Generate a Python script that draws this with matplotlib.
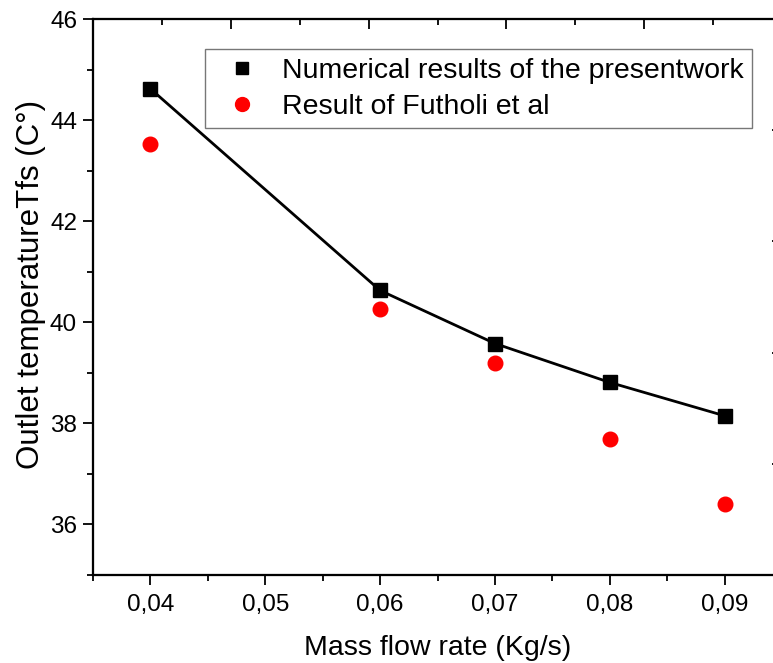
import numpy as np
import matplotlib
matplotlib.use('Agg')
import matplotlib.pyplot as plt
from matplotlib.ticker import MultipleLocator, FixedLocator, FixedFormatter
from matplotlib.lines import Line2D

plt.rcParams['font.family'] = ['Liberation Sans', 'DejaVu Sans']

# data
flow = [0.04, 0.06, 0.07, 0.08, 0.09]
present = [44.62, 40.63, 39.58, 38.81, 38.15]
futholi = [43.52, 40.27, 39.20, 37.70, 36.41]

xticks = [0.04, 0.05, 0.06, 0.07, 0.08, 0.09]
xlabels = ['0,04', '0,05', '0,06', '0,07', '0,08', '0,09']
yticks = [36, 38, 40, 42, 44, 46]

fig = plt.figure(figsize=(7.73, 6.63), dpi=100)
ax = fig.add_axes([93 / 773, 88 / 663, 689 / 773, 556 / 663])

ax.plot(flow, present, color='black', lw=2.0, marker='s', ms=9.5, zorder=3)
ax.plot(flow, futholi, color='red', lw=0, marker='o', ms=10.5, zorder=3)

ax.set_xlim(0.035, 0.095)
ax.set_ylim(35, 46)

ax.xaxis.set_major_locator(FixedLocator(xticks))
ax.xaxis.set_major_formatter(FixedFormatter(xlabels))
ax.xaxis.set_minor_locator(MultipleLocator(0.005))
ax.yaxis.set_major_locator(FixedLocator(yticks))
ax.yaxis.set_minor_locator(MultipleLocator(1))

ax.tick_params(which='major', direction='out', length=7.5, width=1.3, labelsize=17.5, pad=4)
ax.tick_params(axis='x', which='major', pad=6)
ax.tick_params(which='minor', direction='out', length=4.3, width=1.3)
for s in ax.spines.values():
    s.set_linewidth(1.5)

# top and right axes: Origin style, 5 equal steps, inward ticks
top = ax.twiny()
top.set_xlim(0, 5)
top.xaxis.set_major_locator(MultipleLocator(1))
top.xaxis.set_minor_locator(MultipleLocator(0.5))
top.tick_params(which='both', direction='in', labeltop=False, width=1.3)
top.tick_params(which='major', length=7.5)
top.tick_params(which='minor', length=4)

right = ax.twinx()
right.set_ylim(0, 5)
right.yaxis.set_major_locator(MultipleLocator(1))
right.yaxis.set_minor_locator(MultipleLocator(0.5))
right.tick_params(which='both', direction='in', labelright=False, width=1.3)
right.tick_params(which='major', length=7.5)
right.tick_params(which='minor', length=4)
for a in (top, right):
    for s in a.spines.values():
        s.set_linewidth(1.5)

ax.set_xlabel('Mass flow rate (Kg/s)', fontsize=20.5, labelpad=14)
ax.set_ylabel('Outlet temperatureTfs (C°)', fontsize=22.5)
ax.yaxis.set_label_coords(-0.068, 0.523)

handles = [
    Line2D([], [], color='black', marker='s', ls='none', ms=9),
    Line2D([], [], color='red', marker='o', ls='none', ms=10),
]
leg = right.legend(handles, ['Numerical results of the presentwork', 'Result of Futholi et al'],
                   loc='upper left', bbox_to_anchor=(205 / 773, 1 - 49 / 663),
                   bbox_transform=fig.transFigure, fontsize=20.5, frameon=True,
                   fancybox=False, edgecolor='#555555', borderpad=0.3,
                   labelspacing=0.35, handletextpad=0.4, borderaxespad=0)
leg.get_frame().set_linewidth(1.0)

fig.savefig('out.png', dpi=100)
